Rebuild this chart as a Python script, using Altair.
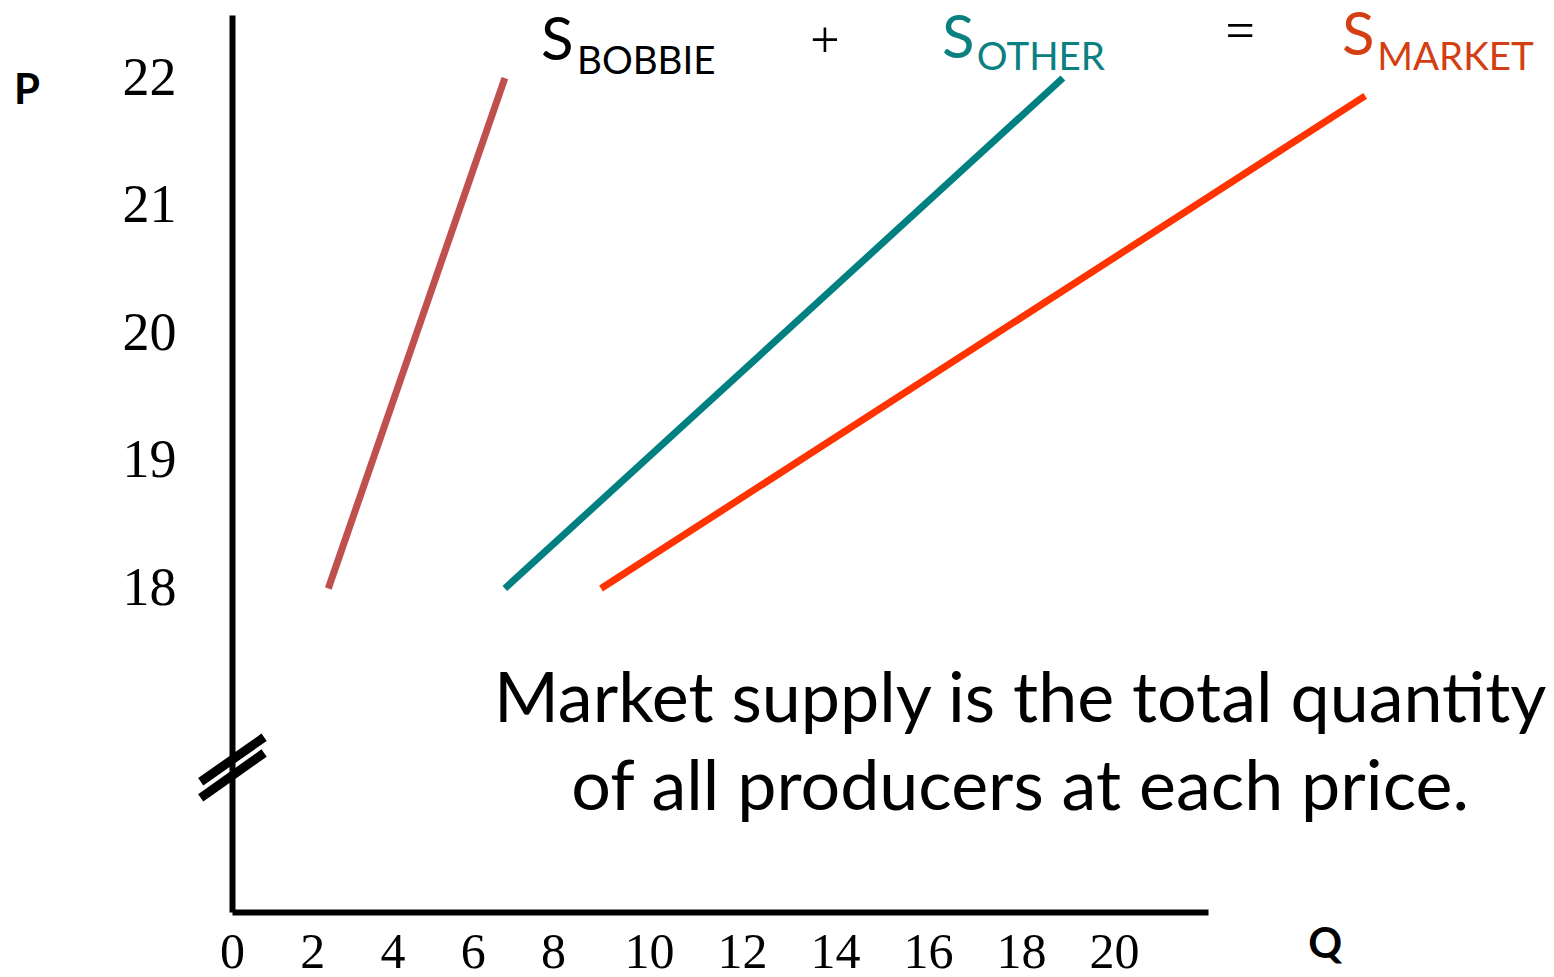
import altair as alt
import pandas as pd

# ---- data ----
series = ["Bobbie", "Other", "Market"]
q_at_low = [2.4, 6.8, 9.0]
q_at_high = [6.8, 18.9, 25.4]
p_low = [18, 18, 18]
p_high = [22, 22, 21.86]
line_colors = ["#C0504D", "#008080", "#FF3300"]

x_ticks = [0, 2, 4, 6, 8, 10, 12, 14, 16, 18, 20]
y_ticks = [18, 19, 20, 21, 22]

# headline labels (S + subscript), placed in data units (Q, P)
s_text = ["S", "S", "S"]
s_q = [7.70, 16.30, 24.90]
s_p = [22.141, 22.157, 22.180]
sub_text = ["BOBBIE", "OTHER", "MARKET"]
sub_q = [8.50, 17.05, 25.66]
sub_p = [22.031, 22.063, 22.063]
label_colors = ["#000000", "#0B8080", "#D33F12"]

op_text = ["+", "="]
op_q = [13.78, 22.71]
op_p = [22.165, 22.235]

note_text = ["Market supply is the total quantity", "of all producers at each price."]
note_q = [17.98, 17.98]
note_p = [16.954, 16.264]

axis_names = ["P", "Q"]
axis_name_q = [-5.11, 24.54]
axis_name_p = [21.796, 15.105]

# axis-break marks
brk_q1 = [-0.78, -0.78]
brk_q2 = [0.80, 0.80]
brk_p1 = [16.486, 16.359]
brk_p2 = [16.834, 16.711]

# ---- tables ----
rows = []
for s, ql, qh, pl, ph in zip(series, q_at_low, q_at_high, p_low, p_high):
    rows.append({"series": s, "Q": ql, "P": pl, "o": 0})
    rows.append({"series": s, "Q": qh, "P": ph, "o": 1})
df_lines = pd.DataFrame(rows)

df_s = pd.DataFrame({"t": s_text, "Q": s_q, "P": s_p, "c": label_colors})
df_sub = pd.DataFrame({"t": sub_text, "Q": sub_q, "P": sub_p, "c": label_colors})
df_op = pd.DataFrame({"t": op_text, "Q": op_q, "P": op_p})
df_note = pd.DataFrame({"t": note_text, "Q": note_q, "P": note_p})
df_names = pd.DataFrame({"t": axis_names, "Q": axis_name_q, "P": axis_name_p})
df_brk = pd.DataFrame({"Q": brk_q1, "Q2": brk_q2, "P": brk_p1, "P2": brk_p2})

xscale = alt.Scale(domain=[0, 8, 10, 22.02], range=[0, 321, 417, 976],
                   zero=False, nice=False)
yscale = alt.Scale(domain=[15.465, 22.494], zero=False, nice=False)

xaxis = alt.Axis(values=x_ticks, title=None, grid=False, ticks=False, tickSize=0,
                 domainColor="black", domainWidth=6, labelFont="Liberation Serif",
                 labelFontSize=50, labelColor="black", labelPadding=15,
                 labelFlush=False, labelOverlap=False)
yaxis = alt.Axis(values=y_ticks, title=None, grid=False, ticks=False, tickSize=0,
                 domainColor="black", domainWidth=6, labelFont="Liberation Serif",
                 labelFontSize=54, labelColor="black", labelPadding=56,
                 labelFlush=False, labelOverlap=False)


def X(field="Q"):
    return alt.X(f"{field}:Q", scale=xscale, axis=xaxis)


def Y(field="P"):
    return alt.Y(f"{field}:Q", scale=yscale, axis=yaxis)


lines = alt.Chart(df_lines).mark_line(strokeWidth=7, strokeCap="butt").encode(
    x=X(), y=Y(),
    color=alt.Color("series:N", scale=alt.Scale(domain=series, range=line_colors), legend=None),
    detail="series:N",
    order="o:Q",
)

breaks = alt.Chart(df_brk).mark_rule(strokeWidth=9, color="black", strokeCap="butt").encode(
    x=X(), x2="Q2:Q", y=Y(), y2="P2:Q"
)

s_layer = alt.Chart(df_s).mark_text(font="Lato", fontSize=60, align="left",
                                    baseline="alphabetic").encode(
    x=X(), y=Y(), text="t:N", color=alt.Color("c:N", scale=None)
)
sub_layer = alt.Chart(df_sub).mark_text(font="Lato", fontSize=38.5, align="left",
                                        baseline="alphabetic").encode(
    x=X(), y=Y(), text="t:N", color=alt.Color("c:N", scale=None)
)
op_layer = alt.Chart(df_op).mark_text(font="Liberation Serif", fontSize=52, align="center",
                                      baseline="alphabetic", color="black").encode(
    x=X(), y=Y(), text="t:N"
)
note_layer = alt.Chart(df_note).mark_text(font="Lato", fontSize=70, align="center",
                                          baseline="alphabetic", color="#000000").encode(
    x=X(), y=Y(), text="t:N"
)
name_layer = alt.Chart(df_names).mark_text(font="Lato", fontSize=42, fontWeight="bold",
                                           align="center", baseline="alphabetic",
                                           color="black").encode(
    x=X(), y=Y(), text="t:N"
)

chart = alt.layer(lines, breaks, s_layer, sub_layer, op_layer, note_layer, name_layer).properties(
    width=976,
    height=897,
    autosize=alt.AutoSizeParams(type="none"),
    padding={"left": 224, "top": 7, "right": 338, "bottom": 57},
).configure_view(stroke=None)

chart.save("out.html", embed_options={"renderer": "svg", "actions": False})
